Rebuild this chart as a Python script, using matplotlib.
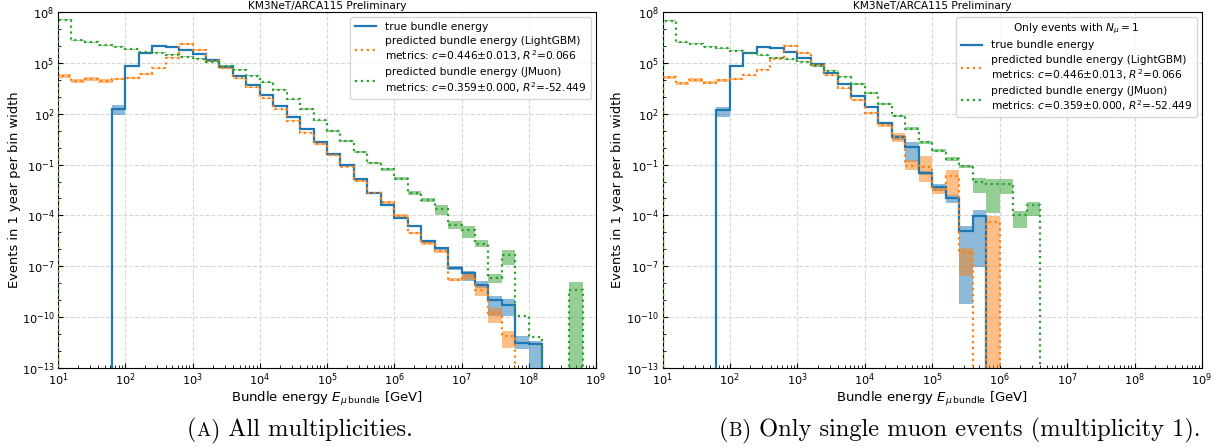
import numpy as np
import matplotlib
matplotlib.use("Agg")
import matplotlib.pyplot as plt
from matplotlib.lines import Line2D
from matplotlib.ticker import NullFormatter, FixedLocator

N = None
# bin edges in log10(E/GeV): 10^1 .. 10^9, 5 bins per decade
log_edges = np.linspace(1.0, 9.0, 41)

# ---------------- left panel: all multiplicities (log10 of events / yr / bin width)
left_true_log = [N, N, N, N, 2.30, 4.82, 5.59, 6.00, 5.92, 5.75,
                 5.51, 5.14, 4.77, 4.23, 3.70, 3.09, 2.43, 1.81, 1.10, 0.34,
                 -0.35, -1.03, -1.85, -2.65, -3.37, -4.15, -4.64, -5.53, -5.94, -7.09,
                 -7.39, -8.08, -8.96, -9.29, -11.50, -11.60, N, N, N, N]
left_true_up = [0, 0, 0, 0, 0.20, 0.03, 0.03, 0.03, 0.03, 0.03,
                0.03, 0.03, 0.03, 0.03, 0.03, 0.03, 0.03, 0.03, 0.03, 0.04,
                0.04, 0.05, 0.05, 0.05, 0.06, 0.06, 0.07, 0.08, 0.10, 0.10,
                0.10, 0.20, 0.20, 0.35, 0.40, 0.20, 0, 0, 0, 0]
left_true_dn = [0, 0, 0, 0, 0.40, 0.03, 0.03, 0.03, 0.03, 0.03,
                0.03, 0.03, 0.03, 0.03, 0.03, 0.03, 0.03, 0.03, 0.03, 0.04,
                0.04, 0.05, 0.05, 0.05, 0.06, 0.06, 0.07, 0.08, 0.10, 0.10,
                0.50, 0.20, 1.00, 0.65, 0.40, 99, 0, 0, 0, 0]

left_lgbm_log = [4.22, 3.92, 4.06, 3.92, 4.04, 4.10, 4.33, 4.67, 5.31, 6.10,
                 5.75, 5.12, 4.67, 4.08, 3.55, 2.91, 2.26, 1.59, 0.89, 0.20,
                 -0.45, -1.12, -1.95, -2.70, -3.23, -4.02, -5.04, -5.62, -6.11, -7.78,
                 -7.60, -8.37, -9.74, -11.10, N, N, N, N, N, N]
left_lgbm_up = [0.10, 0.10, 0.12, 0.10, 0.08, 0.06, 0.05, 0.05, 0.05, 0.05,
                0.04, 0.04, 0.04, 0.04, 0.04, 0.04, 0.04, 0.04, 0.04, 0.05,
                0.05, 0.05, 0.06, 0.06, 0.08, 0.08, 0.08, 0.10, 0.10, 0.10,
                0.20, 0.20, 0.30, 0.30, 0, 0, 0, 0, 0, 0]
left_lgbm_dn = [0.10, 0.10, 0.12, 0.10, 0.08, 0.06, 0.05, 0.05, 0.05, 0.05,
                0.04, 0.04, 0.04, 0.04, 0.04, 0.04, 0.04, 0.04, 0.04, 0.05,
                0.05, 0.05, 0.06, 0.06, 0.08, 0.08, 0.08, 0.10, 0.10, 0.10,
                0.20, 0.40, 0.60, 0.70, 0, 0, 0, 0, 0, 0]

left_jmuon_log = [7.54, 6.32, 6.22, 6.05, 5.95, 5.81, 5.63, 5.61, 5.47, 5.37,
                  5.24, 5.08, 4.82, 4.59, 4.23, 3.86, 3.40, 2.85, 2.28, 1.60,
                  0.98, 0.37, -0.24, -0.90, -1.27, -1.84, -2.68, -3.08, -3.60, -4.55,
                  -4.84, -5.66, -7.68, -6.31, -9.94, -11.15, N, N, -8.37, N]
left_jmuon_up = [0.03, 0.03, 0.03, 0.03, 0.03, 0.03, 0.03, 0.03, 0.03, 0.03,
                 0.03, 0.03, 0.03, 0.03, 0.03, 0.03, 0.03, 0.04, 0.04, 0.05,
                 0.05, 0.06, 0.06, 0.07, 0.08, 0.08, 0.10, 0.10, 0.20, 0.20,
                 0.20, 0.20, 0.20, 0.30, 0.15, 0.25, 0, 0, 0.35, 0]
left_jmuon_dn = [0.03, 0.03, 0.03, 0.03, 0.03, 0.03, 0.03, 0.03, 0.03, 0.03,
                 0.03, 0.03, 0.03, 0.03, 0.03, 0.03, 0.03, 0.04, 0.04, 0.05,
                 0.05, 0.06, 0.06, 0.07, 0.08, 0.08, 0.10, 0.10, 0.35, 0.25,
                 0.50, 0.20, 0.30, 0.60, 0.40, 0.35, 0, 0, 99, 0]

# ---------------- right panel: only N_mu = 1
right_true_log = [N, N, N, N, 2.22, 4.82, 5.61, 5.94, 5.86, 5.65,
                  5.31, 4.96, 4.41, 3.78, 3.05, 2.38, 1.45, 0.62, 0.06, -1.47,
                  -2.35, -2.98, -4.94, -4.02, N, N, N, N, N, N,
                  N, N, N, N, N, N, N, N, N, N]
right_true_up = [0, 0, 0, 0, 0.20, 0.03, 0.03, 0.03, 0.03, 0.03,
                 0.03, 0.03, 0.03, 0.04, 0.04, 0.05, 0.06, 0.10, 0.30, 0.10,
                 0.20, 0.20, 0.30, 0.36, 0, 0, 0, 0, 0, 0,
                 0, 0, 0, 0, 0, 0, 0, 0, 0, 0]
right_true_dn = [0, 0, 0, 0, 0.40, 0.03, 0.03, 0.03, 0.03, 0.03,
                 0.03, 0.03, 0.03, 0.04, 0.04, 0.05, 0.06, 0.15, 0.88, 0.12,
                 0.20, 0.30, 4.30, 3.00, 0, 0, 0, 0, 0, 0,
                 0, 0, 0, 0, 0, 0, 0, 0, 0, 0]

right_lgbm_log = [4.14, 3.79, 3.98, 3.83, 3.98, 4.02, 4.26, 4.60, 5.25, 5.98,
                  5.59, 4.86, 4.26, 3.49, 2.82, 2.06, 1.35, 0.61, -1.07, -1.12,
                  -2.49, -1.66, -6.17, N, -4.41, N, N, N, N, N,
                  N, N, N, N, N, N, N, N, N, N]
right_lgbm_up = [0.10, 0.10, 0.12, 0.10, 0.08, 0.06, 0.05, 0.05, 0.05, 0.05,
                 0.04, 0.04, 0.04, 0.05, 0.05, 0.05, 0.15, 0.25, 0.35, 0.60,
                 0.25, 0.35, 0.25, 0, 0.35, 0, 0, 0, 0, 0,
                 0, 0, 0, 0, 0, 0, 0, 0, 0, 0]
right_lgbm_dn = [0.10, 0.10, 0.12, 0.10, 0.08, 0.06, 0.05, 0.05, 0.05, 0.05,
                 0.04, 0.04, 0.04, 0.05, 0.05, 0.05, 0.15, 0.25, 0.25, 0.90,
                 0.25, 1.20, 1.40, 0, 99, 0, 0, 0, 0, 0,
                 0, 0, 0, 0, 0, 0, 0, 0, 0, 0]

right_jmuon_log = [7.47, 6.22, 6.14, 5.96, 5.85, 5.71, 5.59, 5.45, 5.31, 5.20,
                   5.06, 4.81, 4.53, 4.18, 3.75, 3.24, 2.57, 1.86, 1.12, 0.32,
                   -0.17, -0.66, -1.10, -2.03, -2.16, -2.16, -3.96, -3.37, N, N,
                   N, N, N, N, N, N, N, N, N, N]
right_jmuon_up = [0.03, 0.03, 0.03, 0.03, 0.03, 0.03, 0.03, 0.03, 0.03, 0.03,
                  0.03, 0.03, 0.03, 0.03, 0.04, 0.05, 0.05, 0.06, 0.07, 0.08,
                  0.10, 0.10, 0.10, 0.26, 0.33, 0.29, 0.20, 0.19, 0, 0,
                  0, 0, 0, 0, 0, 0, 0, 0, 0, 0]
right_jmuon_dn = [0.03, 0.03, 0.03, 0.03, 0.03, 0.03, 0.03, 0.03, 0.03, 0.03,
                  0.03, 0.03, 0.03, 0.03, 0.04, 0.05, 0.05, 0.06, 0.07, 0.08,
                  0.10, 0.10, 0.10, 0.63, 1.67, 0.59, 0.78, 0.65, 0, 0,
                  0, 0, 0, 0, 0, 0, 0, 0, 0, 0]

x_tick_exps = [1, 2, 3, 4, 5, 6, 7, 8, 9]
y_tick_exps = [-13, -10, -7, -4, -1, 2, 5, 8]

labels = ["true bundle energy",
          "predicted bundle energy (LightGBM)\nmetrics: $c$=0.446\u00b10.013, $R^2$=0.066",
          "predicted bundle energy (JMuon)\nmetrics: $c$=0.359\u00b10.000, $R^2$=-52.449"]
colors = ["#1f77b4", "#ff7f0e", "#2ca02c"]
styles = ["-", ":", ":"]
title = "KM3NeT/ARCA115 Preliminary"
xlabel = r"Bundle energy $E_{\mu\,\mathrm{bundle}}$ [GeV]"
ylabel = "Events in 1 year per bin width"
legend_title_right = r"Only events with $N_\mu = 1$"
captions = [("A", " All multiplicities."),
            ("B", " Only single muon events (multiplicity 1).")]

W, H = 1227, 448
fig = plt.figure(figsize=(W / 100, H / 100), dpi=100)
edges = 10.0 ** log_edges
widths = np.diff(edges)
TINY = 1e-20


def draw_series(ax, vals_log, up, dn, color, ls):
    v = np.array([np.nan if x is None else x for x in vals_log], dtype=float)
    up = np.array(up, float)
    dn = np.array(dn, float)
    ok = ~np.isnan(v)
    lo = np.where(dn >= 50, -16.0, v - dn)
    hi = v + up
    ax.bar(edges[:-1][ok], (10.0 ** hi[ok]) - (10.0 ** lo[ok]), width=widths[ok],
           bottom=10.0 ** lo[ok], align="edge", color=color, alpha=0.5,
           linewidth=0, zorder=2)
    lin = np.where(ok, 10.0 ** np.nan_to_num(v, nan=-30), TINY)
    ax.stairs(lin, edges, baseline=TINY, color=color, linestyle=ls,
              linewidth=1.6, zorder=3)


def setup(ax, ylab_x):
    ax.set_xscale("log")
    ax.set_yscale("log")
    ax.set_xlim(1e1, 1e9)
    ax.set_ylim(1e-13, 1e8)
    ax.xaxis.set_major_locator(FixedLocator([10.0 ** k for k in x_tick_exps]))
    minors = [m * 10.0 ** k for k in x_tick_exps[:-1] for m in range(2, 10)]
    ax.xaxis.set_minor_locator(FixedLocator(minors))
    ax.xaxis.set_minor_formatter(NullFormatter())
    ax.yaxis.set_major_locator(FixedLocator([10.0 ** k for k in y_tick_exps]))
    ax.yaxis.set_minor_locator(FixedLocator([10.0 ** k for k in range(-13, 9)]))
    ax.yaxis.set_minor_formatter(NullFormatter())
    ax.tick_params(axis="both", which="both", direction="in")
    ax.tick_params(axis="both", which="major", labelsize=8.2, length=3.5)
    ax.tick_params(axis="x", which="major", pad=2.6)
    ax.tick_params(axis="y", which="major", pad=2.6)
    ax.tick_params(axis="both", which="minor", length=2.0)
    ax.grid(True, which="major", linestyle="--", color="#d8d8d8", linewidth=0.8)
    ax.set_axisbelow(True)
    ax.set_xlabel(xlabel, fontsize=9.5, labelpad=1.0)
    ax.set_ylabel(ylabel, fontsize=9.4)
    ax.yaxis.set_label_coords(ylab_x, 0.5)
    ax.set_title(title, fontsize=7.6, pad=2)


handles = [Line2D([], [], color=c, linestyle=s, linewidth=1.6) for c, s in zip(colors, styles)]

ax1 = fig.add_axes([58 / W, 1 - 368 / H, 538 / W, 356 / H])
ax2 = fig.add_axes([662.5 / W, 1 - 368 / H, 539.5 / W, 356 / H])

for ax, series, ylx in [(ax1, [(left_true_log, left_true_up, left_true_dn),
                               (left_lgbm_log, left_lgbm_up, left_lgbm_dn),
                               (left_jmuon_log, left_jmuon_up, left_jmuon_dn)], -0.068),
                        (ax2, [(right_true_log, right_true_up, right_true_dn),
                               (right_lgbm_log, right_lgbm_up, right_lgbm_dn),
                               (right_jmuon_log, right_jmuon_up, right_jmuon_dn)], -0.072)]:
    for (vl, u, d), c, s in zip(series, colors, styles):
        draw_series(ax, vl, u, d, c, s)
    setup(ax, ylx)

ax1.legend(handles, labels, loc="upper right", fontsize=7.7, framealpha=0.8,
           labelspacing=0.4)
ax2.legend(handles, labels, loc="upper right", fontsize=7.7, framealpha=0.8,
           labelspacing=0.4, title=legend_title_right, title_fontsize=7.7)

# captions (LaTeX-like, with small caps letter)
renderer = fig.canvas.get_renderer()
cap_size = 17.6
cap_centers = [299.5, 959.5]
cap_base_y = 1 - 436 / H
for (letter, rest), cx in zip(captions, cap_centers):
    pieces = [("(", cap_size), (letter, cap_size * 0.78), (")", cap_size), (rest, cap_size)]
    texts = []
    for s, fs in pieces:
        t = fig.text(0.5, cap_base_y, s, fontsize=fs, family="cmr10", va="baseline", ha="left")
        texts.append(t)
    wids = [t.get_window_extent(renderer).width for t in texts]
    x = cx - sum(wids) / 2
    for t, w in zip(texts, wids):
        t.set_x(x / W)
        x += w

fig.savefig("out.png", dpi=100)
